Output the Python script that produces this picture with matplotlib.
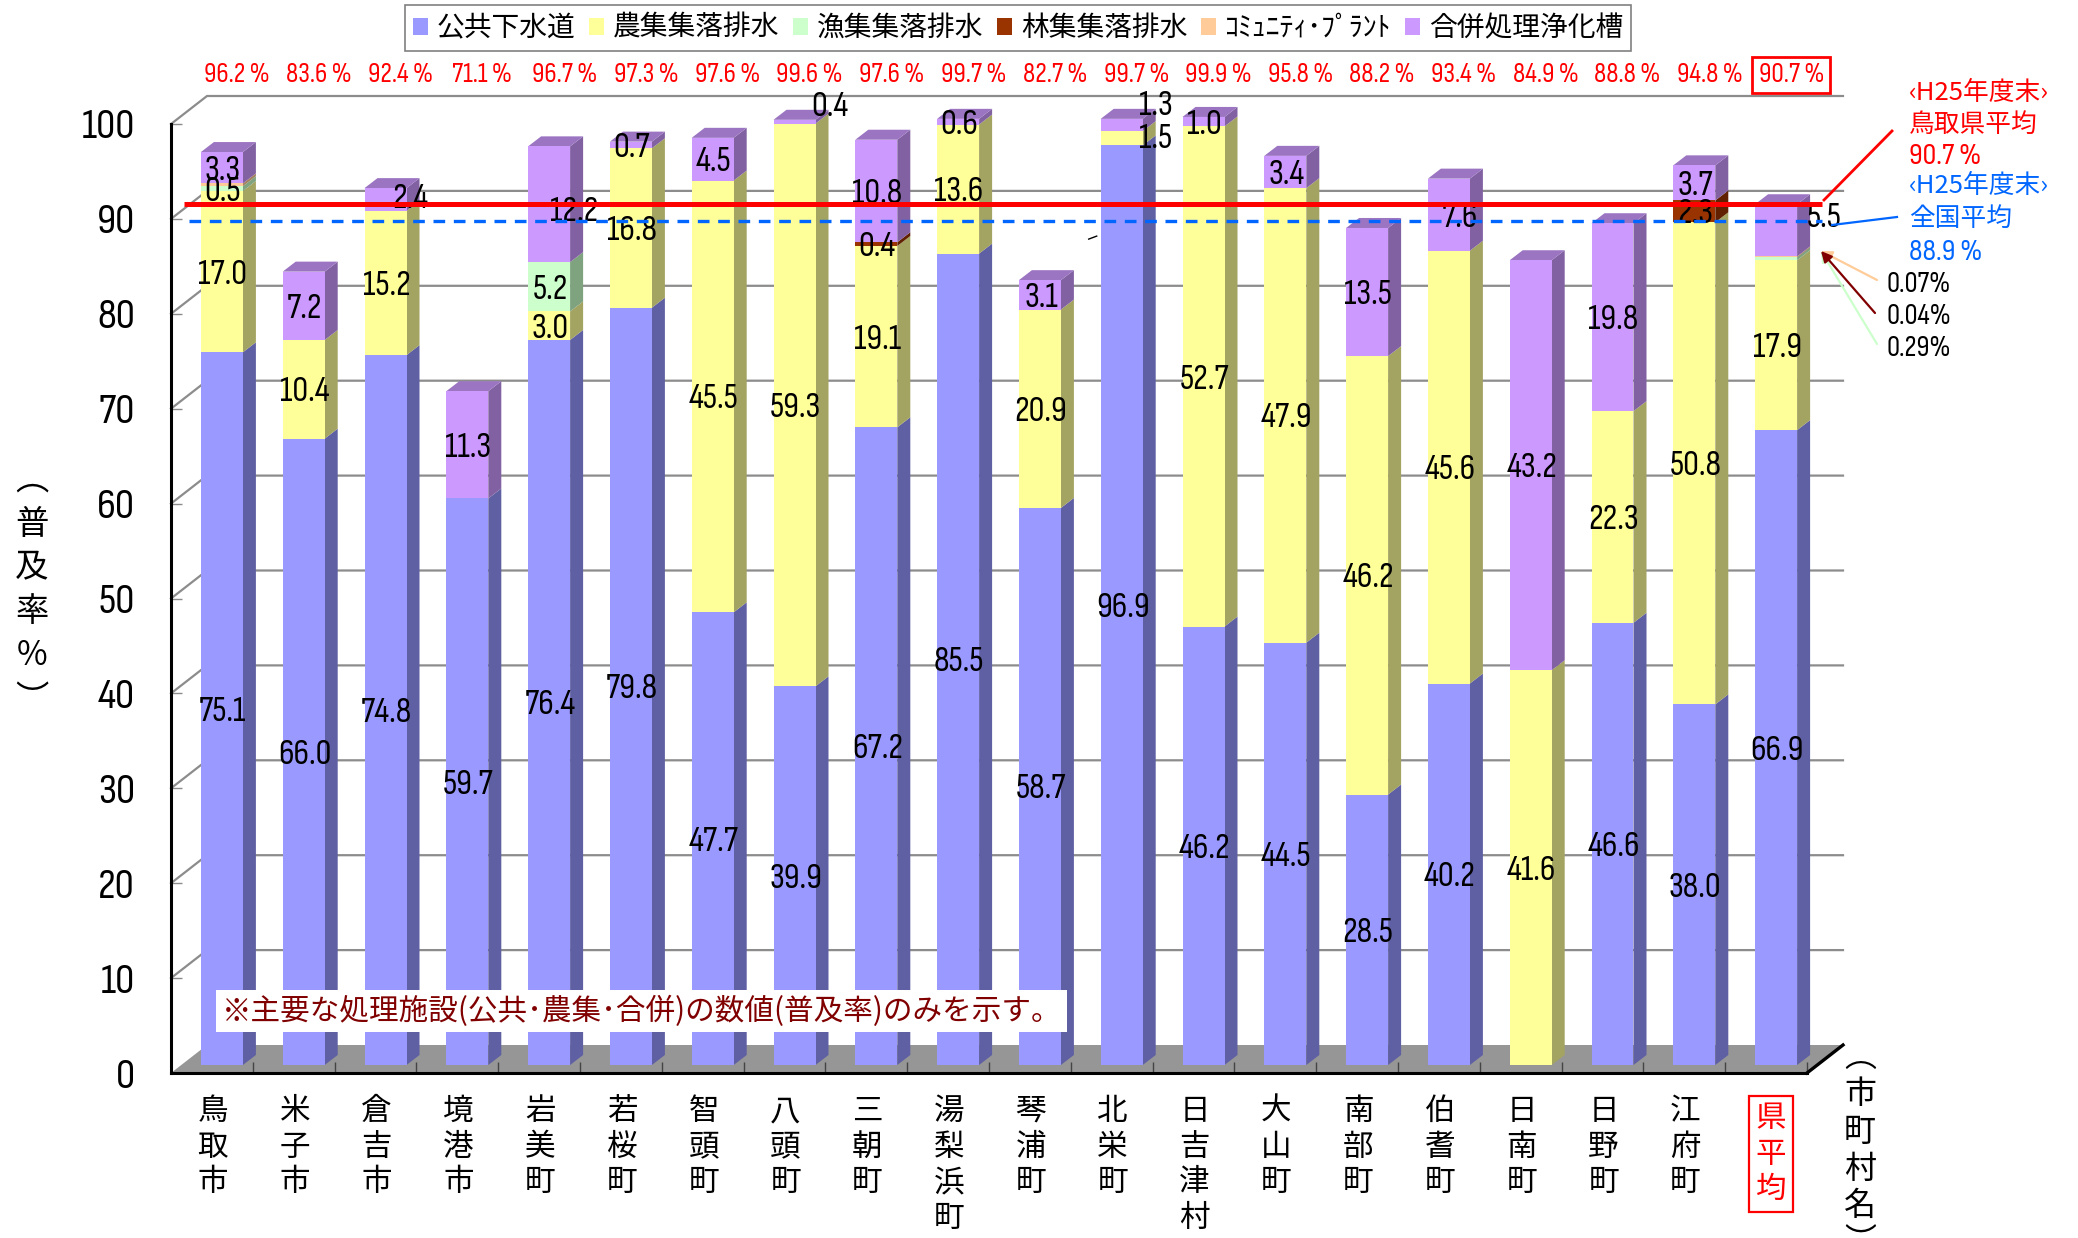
import numpy as np
import matplotlib
matplotlib.use('Agg')
import matplotlib.pyplot as plt
from matplotlib.patches import Patch, Polygon

plt.rcParams['font.family'] = ['Noto Sans CJK JP', 'DejaVu Sans']
NUM_FONT = ['Sofia Sans Condensed', 'Liberation Sans', 'Noto Sans CJK JP']

W, H = 2078, 1238

# Data
cities = ['鳥取市', '米子市', '倉吉市', '境港市', '岩美町', '若桜町', '智頭町', '八頭町', '三朝町', '湯梨浜町',
          '琴浦町', '北栄町', '日吉津村', '大山町', '南部町', '伯耆町', '日南町', '日野町', '江府町', '県平均']
sewer = [75.1, 66.0, 74.8, 59.7, 76.4, 79.8, 47.7, 39.9, 67.2, 85.5,
         58.7, 96.9, 46.2, 44.5, 28.5, 40.2, 0, 46.6, 38.0, 66.9]
farm = [17.0, 10.4, 15.2, 0, 3.0, 16.8, 45.5, 59.3, 19.1, 13.6,
        20.9, 1.5, 52.7, 47.9, 46.2, 45.6, 41.6, 22.3, 50.8, 17.9]
fishing = [0.5, 0, 0, 0, 5.2, 0, 0, 0, 0, 0,
           0, 0, 0, 0, 0, 0, 0, 0, 0, 0.29]
forest = [0, 0, 0, 0, 0, 0, 0, 0, 0.4, 0,
          0, 0, 0, 0, 0, 0, 0, 0, 2.3, 0.04]
community = [0.3, 0, 0, 0, 0, 0, 0, 0, 0, 0,
             0, 0, 0, 0, 0, 0, 0, 0, 0, 0.07]
septic = [3.3, 7.2, 2.4, 11.3, 12.2, 0.7, 4.5, 0.4, 10.8, 0.6,
          3.1, 1.3, 1.0, 3.4, 13.5, 7.6, 43.2, 19.8, 3.7, 5.5]
totals = [96.2, 83.6, 92.4, 71.1, 96.7, 97.3, 97.6, 99.6, 97.6, 99.7,
          82.7, 99.7, 99.9, 95.8, 88.2, 93.4, 84.9, 88.8, 94.8, 90.7]
pref_avg = 90.7
nation_avg = 88.9

series = [
    ('公共下水道', sewer, '#9999FF', '#5F5FA3', None),
    ('農集集落排水', farm, '#FFFF99', '#A3A362', None),
    ('漁集集落排水', fishing, '#CCFFCC', '#7FA37F', None),
    ('林集集落排水', forest, '#993300', '#612000', '#7A2900'),
    ('ｺﾐｭﾆﾃｨ･ﾌﾟﾗﾝﾄ', community, '#FFCC99', '#A38262', None),
    ('合併処理浄化槽', septic, '#CC99FF', '#8261A3', '#9B74C2'),
]

# labels that sit away from the segment centre: (city, series) -> pixel shift
label_shift = {
    (2, 5): (24, 4), (4, 5): (24, -5), (7, 5): (34, 18), (11, 5): (33, 22),
    (11, 1): (33, 2), (15, 5): (10, 0), (19, 5): (47, 15),
}

fig = plt.figure(figsize=(W / 100, H / 100), dpi=100)
ax = fig.add_axes([171 / W, 1 - 1073 / H, (1807 - 171) / W, (1073 - 124) / H])
ax.set_xlim(0, 20)
ax.set_ylim(0, 100)

px_x = 20 / (1807 - 171)
px_y = 100 / (1073 - 124)


def fig_xy(x, y):
    return x / W, 1 - y / H


# depth of the fake 3D box and of the bars, in data units
wall_dx, wall_dy = 36 * px_x, 28 * px_y
plane_dx, plane_dy = 10 * px_x, 8 * px_y
bar_dx, bar_dy = 13 * px_x, 10 * px_y
bar_w = 42 * px_x

# floor and grid on the back wall
ax.add_patch(Polygon([(0, 0), (20, 0), (20 + wall_dx, wall_dy), (wall_dx, wall_dy)],
                     fc='#969696', ec='none', clip_on=False, zorder=1))
for t in range(10, 101, 10):
    ax.plot([0, wall_dx, 20 + wall_dx], [t, t + wall_dy, t + wall_dy], color='#8C8C8C', lw=1.6,
            clip_on=False, zorder=1.5, solid_joinstyle='miter')
ax.plot([20, 20 + wall_dx], [0, wall_dy], color='black', lw=2.4, clip_on=False, zorder=1.6)

# bars
x = np.arange(20) + 0.5 + plane_dx
bottom = np.zeros(20) + plane_dy
top_total = np.array([s[1] for s in series]).sum(axis=0) + plane_dy
for j, (name, vals, col, side, top) in enumerate(series):
    vals = np.array(vals, dtype=float)
    ax.bar(x, vals, bar_w, bottom=bottom, color=col, clip_on=False, zorder=3)
    for i in range(20):
        if vals[i] <= 0:
            continue
        xr = x[i] + bar_w / 2
        y0, y1 = bottom[i], bottom[i] + vals[i]
        ax.add_patch(Polygon([(xr, y0), (xr + bar_dx, y0 + bar_dy), (xr + bar_dx, y1 + bar_dy), (xr, y1)],
                             fc=side, ec='none', clip_on=False, zorder=2.5))
        if top is not None and abs(y1 - top_total[i]) < 0.01:
            xl = x[i] - bar_w / 2
            ax.add_patch(Polygon([(xl, y1), (xr, y1), (xr + bar_dx, y1 + bar_dy), (xl + bar_dx, y1 + bar_dy)],
                                 fc=top, ec='none', clip_on=False, zorder=2.5))
        # community plant and very thin slices carry no label
        if name.startswith('ｺ') or vals[i] < 0.3:
            continue
        shift = label_shift.get((i, j), (0, 0))
        ax.annotate(f'{vals[i]:.1f}', (x[i], (y0 + y1) / 2), xytext=(shift[0] + 1, shift[1] - 3),
                    textcoords='offset pixels', ha='center', va='center', fontsize=25.5,
                    family=NUM_FONT, color='black', zorder=5, annotation_clip=False)
    bottom = bottom + vals

# stray leader line next to 北栄町
ax.plot([x[11] - 33 * px_x, x[11] - 25 * px_x], [90.4 - 32 * px_y + plane_dy, 90.4 - 29 * px_y + plane_dy],
        color='black', lw=1, clip_on=False, zorder=5)

# average lines on the plane of the bars
ax.plot([plane_dx + 3 * px_x, 20 + plane_dx + 5 * px_x], [pref_avg + plane_dy] * 2, color='#FF0000', lw=3.6,
        clip_on=False, zorder=6, solid_capstyle='butt')
ax.plot([plane_dx + 8 * px_x, 20 + plane_dx + 5 * px_x], [nation_avg + plane_dy] * 2, color='#0066FF', lw=2.4,
        ls=(0, (3.5, 2.6)), clip_on=False, zorder=6)

# axes
for s in ['top', 'right']:
    ax.spines[s].set_visible(False)
for s in ['left', 'bottom']:
    ax.spines[s].set_linewidth(2.2)
    ax.spines[s].set_zorder(7)
ax.set_yticks(range(0, 101, 10))
ax.tick_params(axis='y', direction='in', length=8, width=1, color='#8C8C8C', pad=26, labelsize=31)
for lab in ax.get_yticklabels():
    lab.set_family(NUM_FONT)
ax.set_xticks(range(1, 21))
ax.set_xticklabels([])
ax.tick_params(axis='x', direction='in', length=8, width=1, color='#444444', top=False)

# city names, one character per line
for i, name in enumerate(cities):
    c = '#FF0000' if i == 19 else 'black'
    box = dict(fc='none', ec='#FF0000', lw=1.6, pad=5) if i == 19 else None
    xc = 171 + (i + 0.5) * 81.8 + (1 if i < 19 else 5)
    fig.text(*fig_xy(xc, 1096 if i < 19 else 1103), '\n'.join(name),
             ha='center', va='top', fontsize=22, color=c, linespacing=1.19, bbox=box)

# totals above the plot
for i, v in enumerate(totals):
    box = dict(fc='none', ec='#FF0000', lw=2, pad=4.5) if i == 19 else None
    fig.text(*fig_xy(237 + i * 81.8, 75), f'{v:.1f} %', ha='center', va='center', fontsize=20,
             family=NUM_FONT, color='#FF0000', bbox=box)

# axis titles written vertically
fig.text(*fig_xy(32, 590), '︵\n普\n及\n率\n%\n︶', ha='center', va='center', fontsize=24, linespacing=1.33)
fig.text(*fig_xy(1860, 1150), '︵\n市\n町\n村\n名\n︶', ha='center', va='center', fontsize=23, linespacing=1.2)

# note
fig.text(*fig_xy(222, 1011), '※主要な処理施設(公共･農集･合併)の数値(普及率)のみを示す。', ha='left', va='center',
         fontsize=21.3, color='#800000', zorder=8,
         bbox=dict(fc='white', ec='none', pad=4))

# side notes
for y_pos, txt, c, fam in [(93, '‹H25年度末›', '#FF0000', None), (125, '鳥取県平均', '#FF0000', None),
                           (157, '90.7 %', '#FF0000', NUM_FONT), (186, '‹H25年度末›', '#0066FF', None),
                           (219, '全国平均', '#0066FF', None), (252, '88.9 %', '#0066FF', NUM_FONT)]:
    fig.text(*fig_xy(1909, y_pos), txt, ha='left', va='center', fontsize=18.5 if fam is None else 22, color=c,
             family=fam if fam else ['Noto Sans CJK JP', 'DejaVu Sans'])
for y_pos, txt in [(284, '0.07%'), (316, '0.04%'), (349, '0.29%')]:
    fig.text(*fig_xy(1887, y_pos), txt, ha='left', va='center', fontsize=21, family=NUM_FONT)

ln_ax = fig.add_axes([0, 0, 1, 1], facecolor='none')
ln_ax.set_xlim(0, W)
ln_ax.set_ylim(H, 0)
ln_ax.axis('off')
ln_ax.plot([1824, 1892], [200, 131], color='#FF0000', lw=2)
ln_ax.plot([1832, 1897], [225, 217], color='#0066FF', lw=1.6)
for x0, y0, c in [(1877, 280, '#FFCC99'), (1877, 344, '#CCFFCC'), (1875, 313, '#800000')]:
    ln_ax.annotate('', xy=(1821, 251), xytext=(x0, y0),
                   arrowprops=dict(arrowstyle='-|>', color=c, lw=1.6, mutation_scale=16, shrinkA=0, shrinkB=0))

# legend
handles = [Patch(fc=s[2], ec='none', label=s[0]) for s in series]
leg = fig.legend(handles=handles, loc='center', bbox_to_anchor=fig_xy(1018, 28), ncol=6, fontsize=20,
                 handlelength=0.55, handleheight=0.55, handletextpad=0.3, columnspacing=0.5,
                 fancybox=False, edgecolor='#808080', framealpha=1, borderpad=0.3)
leg.get_frame().set_linewidth(1.2)

fig.savefig('out.png', dpi=100)
